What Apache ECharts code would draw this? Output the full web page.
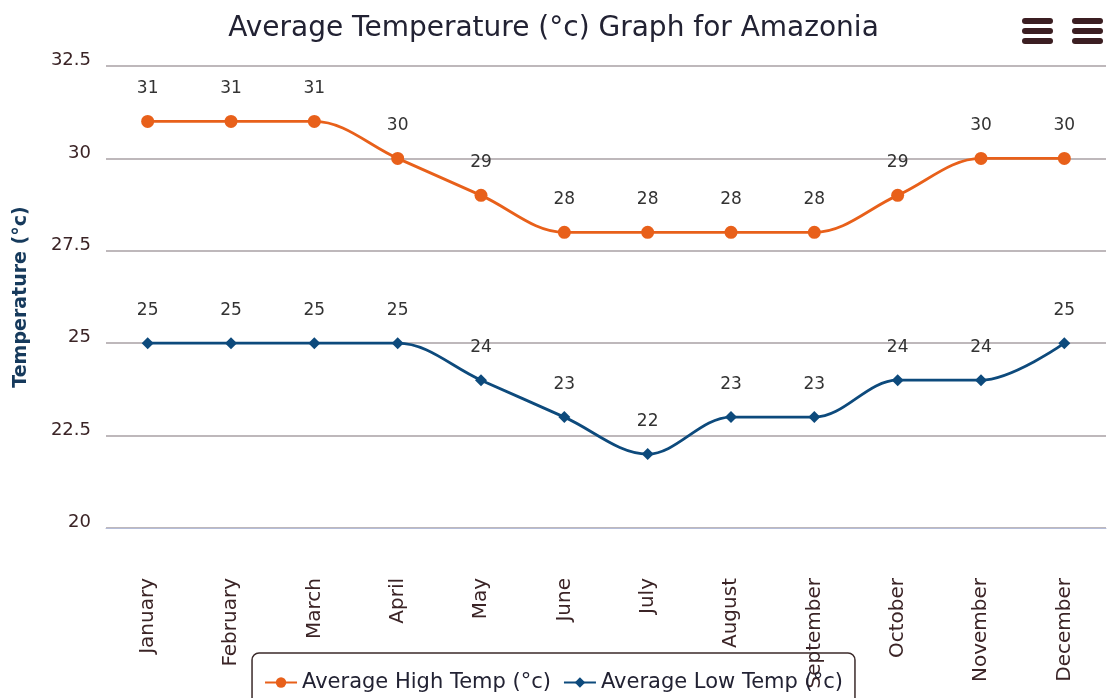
<!DOCTYPE html>
<html>
<head>
<meta charset="utf-8">
<script src="https://cdn.jsdelivr.net/npm/echarts@6/dist/echarts.min.js"></script>
<style>
  html, body { margin: 0; padding: 0; background: #fff; }
  #chart { width: 1107px; height: 698px; }
</style>
</head>
<body>
<div id="chart"></div>
<script>
var months = ["January", "February", "March", "April", "May", "June",
  "July", "August", "September", "October", "November", "December"];
var highTemp = [31, 31, 31, 30, 29, 28, 28, 28, 28, 29, 30, 30];
var lowTemp = [25, 25, 25, 25, 24, 23, 22, 23, 23, 24, 24, 25];

var chart = echarts.init(document.getElementById("chart"));

// hamburger menu icons, top right
var menuBars = [];
[1022, 1072].forEach(function (x) {
  [21, 31, 41].forEach(function (y) {
    menuBars.push({
      type: "rect",
      shape: { x: x, y: y - 3, width: 31, height: 6, r: 3 },
      style: { fill: "#3b1e22" }
    });
  });
});

chart.setOption({
  backgroundColor: "#fff",
  title: {
    text: "Average Temperature (°c) Graph for Amazonia",
    left: "center",
    top: 10,
    textStyle: { fontFamily: "DejaVu Sans", fontSize: 28, fontWeight: "normal", color: "#222233" }
  },
  graphic: menuBars,
  legend: {
    data: ["Average High Temp (°c)", "Average Low Temp (°c)"],
    left: "center",
    top: 653,
    padding: [19, 12, 20, 12],
    borderColor: "#3b2a2a",
    borderWidth: 1.5,
    borderRadius: 7,
    itemWidth: 32,
    itemHeight: 13,
    itemGap: 12,
    textStyle: { fontFamily: "DejaVu Sans", fontSize: 21, color: "#222233" }
  },
  grid: { left: 106, right: 1, top: 66, bottom: 170, outerBoundsMode: "none" },
  xAxis: {
    type: "category",
    data: months,
    axisLine: { lineStyle: { color: "#b4bcd8" } },
    axisTick: { lineStyle: { color: "#b4bcd8" }, length: 6 },
    axisLabel: {
      rotate: 90,
      margin: 50,
      fontFamily: "DejaVu Sans",
      fontSize: 20,
      color: "#3b2426"
    }
  },
  yAxis: {
    type: "value",
    min: 20,
    max: 32.5,
    interval: 2.5,
    name: "Temperature (°c)",
    nameLocation: "middle",
    nameGap: 75,
    nameTextStyle: { fontFamily: "DejaVu Sans", fontSize: 19, fontWeight: "bold", color: "#163a5c" },
    axisLine: { show: false },
    axisTick: { show: false },
    axisLabel: {
      margin: 15,
      verticalAlign: "bottom",
      lineHeight: 11,
      fontFamily: "DejaVu Sans",
      fontSize: 18,
      color: "#3b2426"
    },
    splitLine: { lineStyle: { color: "#a8a0a4", width: 1.5 } }
  },
  series: [
    {
      name: "Average High Temp (°c)",
      type: "line",
      data: highTemp,
      smooth: 0.35,
      symbol: "circle",
      symbolSize: 13,
      color: "#e8601a",
      lineStyle: { width: 2.8 },
      label: {
        show: true,
        position: "top",
        distance: 18,
        fontFamily: "DejaVu Sans",
        fontSize: 17,
        color: "#333"
      }
    },
    {
      name: "Average Low Temp (°c)",
      type: "line",
      data: lowTemp,
      smooth: 0.35,
      symbol: "diamond",
      symbolSize: 12,
      color: "#0d4a7c",
      lineStyle: { width: 2.8 },
      label: {
        show: true,
        position: "top",
        distance: 18,
        fontFamily: "DejaVu Sans",
        fontSize: 17,
        color: "#333"
      }
    }
  ]
});

window.addEventListener("resize", function () {
  chart.resize();
});
</script>
</body>
</html>
